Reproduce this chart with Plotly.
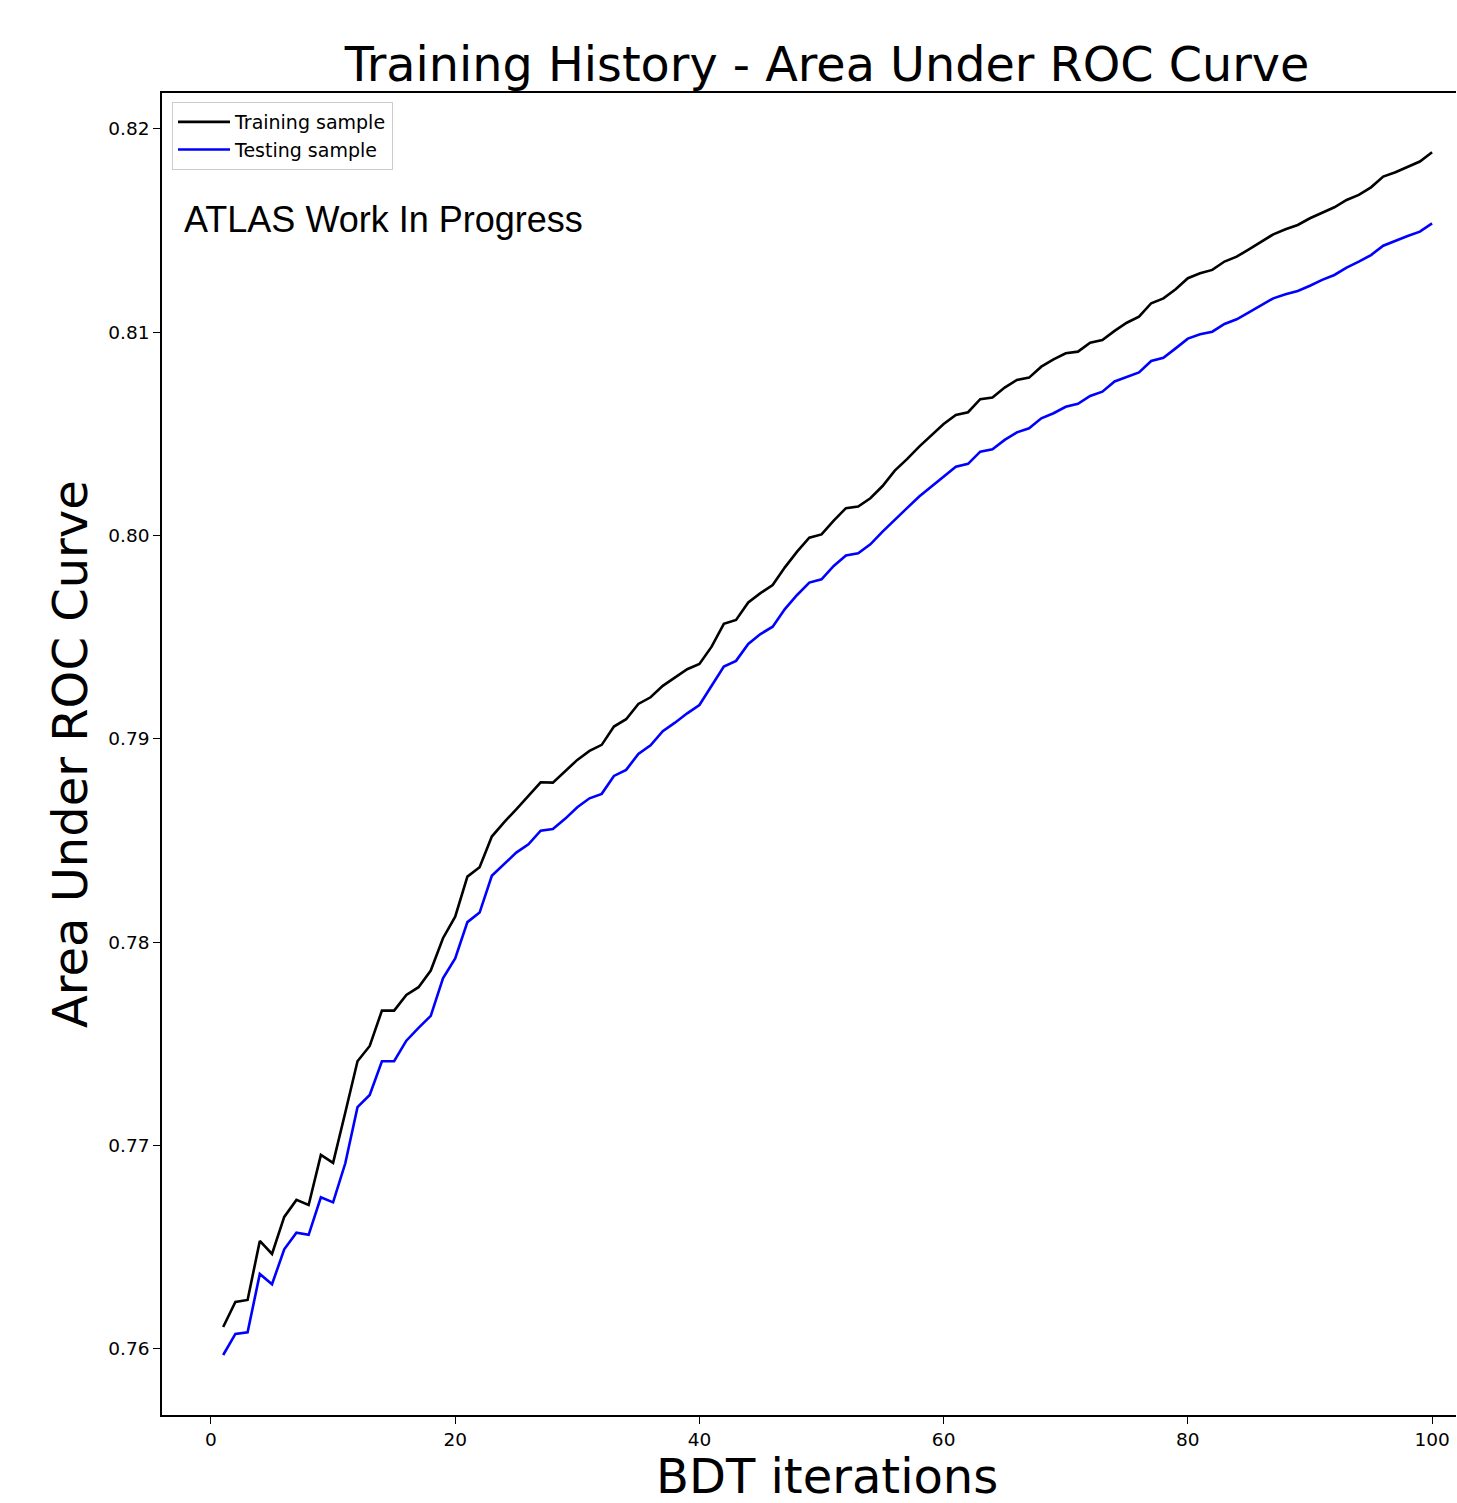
import plotly.graph_objects as go

iterations = list(range(1, 101))

training_auc = [
    0.76108, 0.76231, 0.76241, 0.76531, 0.76467, 0.76649, 0.76733, 0.76708, 0.76954, 0.76915,
    0.77163, 0.77415, 0.77490, 0.77664, 0.77664, 0.77741, 0.77779, 0.77861, 0.78020, 0.78126,
    0.78323, 0.78369, 0.78520, 0.78590, 0.78654, 0.78721, 0.78787, 0.78785, 0.78839, 0.78897,
    0.78941, 0.78971, 0.79061, 0.79097, 0.79172, 0.79205, 0.79261, 0.79302, 0.79343, 0.79369,
    0.79454, 0.79566, 0.79585, 0.79671, 0.79717, 0.79757, 0.79844, 0.79921, 0.79990, 0.80006,
    0.80074, 0.80135, 0.80143, 0.80184, 0.80244, 0.80320, 0.80376, 0.80438, 0.80495, 0.80549,
    0.80594, 0.80607, 0.80671, 0.80679, 0.80728, 0.80766, 0.80777, 0.80831, 0.80867, 0.80897,
    0.80905, 0.80949, 0.80962, 0.81007, 0.81047, 0.81077, 0.81143, 0.81167, 0.81212, 0.81266,
    0.81290, 0.81307, 0.81348, 0.81372, 0.81408, 0.81446, 0.81482, 0.81507, 0.81528, 0.81561,
    0.81589, 0.81615, 0.81651, 0.81676, 0.81713, 0.81766, 0.81787, 0.81815, 0.81840, 0.81886,
]

testing_auc = [
    0.75970, 0.76074, 0.76082, 0.76369, 0.76318, 0.76490, 0.76572, 0.76561, 0.76746, 0.76721,
    0.76913, 0.77189, 0.77249, 0.77415, 0.77415, 0.77516, 0.77579, 0.77638, 0.77823, 0.77921,
    0.78099, 0.78146, 0.78327, 0.78385, 0.78441, 0.78482, 0.78549, 0.78557, 0.78607, 0.78664,
    0.78708, 0.78730, 0.78818, 0.78848, 0.78926, 0.78969, 0.79038, 0.79080, 0.79126, 0.79167,
    0.79261, 0.79356, 0.79384, 0.79467, 0.79516, 0.79552, 0.79639, 0.79708, 0.79769, 0.79785,
    0.79851, 0.79902, 0.79913, 0.79957, 0.80020, 0.80080, 0.80135, 0.80192, 0.80241, 0.80287,
    0.80339, 0.80353, 0.80413, 0.80425, 0.80471, 0.80508, 0.80528, 0.80577, 0.80602, 0.80634,
    0.80648, 0.80687, 0.80708, 0.80758, 0.80782, 0.80803, 0.80859, 0.80875, 0.80921, 0.80969,
    0.80990, 0.81003, 0.81041, 0.81064, 0.81098, 0.81134, 0.81167, 0.81187, 0.81203, 0.81229,
    0.81258, 0.81282, 0.81318, 0.81348, 0.81380, 0.81426, 0.81451, 0.81474, 0.81495, 0.81536,
]

x_ticks = [0, 20, 40, 60, 80, 100]
y_ticks = [0.76, 0.77, 0.78, 0.79, 0.80, 0.81, 0.82]
y_tick_labels = ["0.76", "0.77", "0.78", "0.79", "0.80", "0.81", "0.82"]

W, H = 1457, 1503
L, R, T, B = 162, 1, 93, 88
PW = W - L - R
PH = H - T - B

def px_x(p):
    return (p - L) / PW

def px_y(p):
    return 1 - (p - T) / PH

DJ = "DejaVu Sans"

fig = go.Figure()
fig.add_trace(go.Scatter(x=iterations, y=training_auc, mode="lines",
                         name="Training sample", line=dict(color="black", width=2.6)))
fig.add_trace(go.Scatter(x=iterations, y=testing_auc, mode="lines",
                         name="Testing sample", line=dict(color="blue", width=2.6)))

fig.update_layout(
    width=W, height=H,
    margin=dict(l=L, r=R, t=T, b=B),
    paper_bgcolor="white", plot_bgcolor="white",
    font=dict(family=DJ, size=19, color="black"),
    title=dict(text="Training History - Area Under ROC Curve",
               font=dict(family=DJ, size=47.7, color="black"),
               x=827 / W, xref="container", xanchor="center",
               y=1 - 64 / H, yref="container", yanchor="middle"),
    showlegend=True,
    legend=dict(x=px_x(172), y=px_y(102), xanchor="left", yanchor="top",
                bgcolor="rgba(255,255,255,0.8)", bordercolor="#cccccc", borderwidth=1,
                font=dict(family=DJ, size=19, color="black"),
                itemwidth=52, tracegroupgap=0),
)

fig.update_xaxes(range=[-4.01, 101.96], tickvals=x_ticks, ticks="outside", ticklen=7,
                 tickwidth=1.3, tickcolor="black", showline=True, linecolor="black",
                 linewidth=1.5, mirror=True, showgrid=False, zeroline=False,
                 tickfont=dict(family=DJ, size=18.5, color="black"))
fig.update_yaxes(range=[0.75675, 0.82177], tickvals=y_ticks, ticktext=y_tick_labels,
                 ticks="outside", ticklen=7, tickwidth=1.3, tickcolor="black",
                 showline=True, linecolor="black", linewidth=1.5, mirror=False,
                 showgrid=False, zeroline=False,
                 tickfont=dict(family=DJ, size=18.5, color="black"))

fig.add_annotation(text="BDT iterations", xref="paper", yref="paper",
                   x=px_x(827), y=px_y(1476), xanchor="center", yanchor="middle",
                   showarrow=False, font=dict(family=DJ, size=48, color="black"))
fig.add_annotation(text="Area Under ROC Curve", xref="paper", yref="paper",
                   x=px_x(70), y=px_y(754), xanchor="center", yanchor="middle",
                   textangle=-90, showarrow=False,
                   font=dict(family=DJ, size=48, color="black"))
fig.add_annotation(text="ATLAS Work In Progress", xref="paper", yref="paper",
                   x=px_x(182), y=px_y(219), xanchor="left", yanchor="middle",
                   showarrow=False,
                   font=dict(family="Liberation Sans", size=36, color="black"))

fig.write_html("out.html")
